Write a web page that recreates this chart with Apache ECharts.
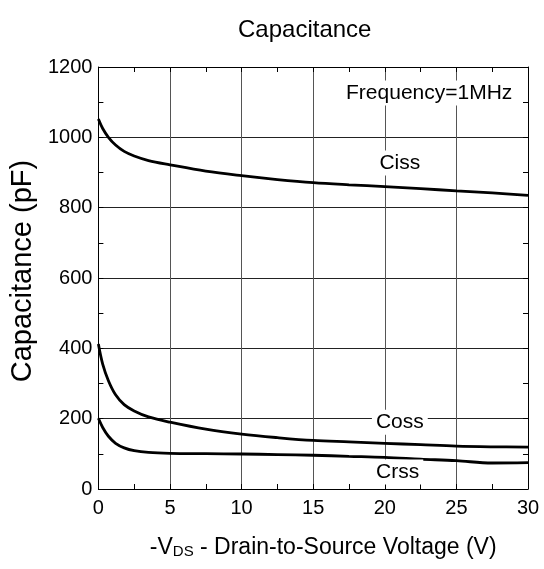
<!DOCTYPE html>
<html>
<head>
<meta charset="utf-8">
<script src="https://cdn.jsdelivr.net/npm/echarts@6/dist/echarts.min.js"></script>
<style>html,body{margin:0;padding:0;background:#fff}#c{width:544px;height:569px}</style>
</head>
<body>
<div id="c"></div>
<script>
const vds = [0, 0.3, 0.7, 1.2, 1.8, 2.5, 3.5, 5, 7.5, 10, 12.5, 15, 17.5, 20, 22.5, 25, 27.5, 30];
const ciss = [1052, 1025, 1000, 978, 960, 947, 934, 922, 904, 891, 880, 871, 865, 860, 854, 848, 842, 835];
const coss = [412, 355, 308, 268, 240, 222, 205, 190, 170, 156, 146, 138, 134, 130, 126, 122, 120, 119];
const crss = [201, 175, 150, 130, 117, 109, 104, 101.5, 100.5, 99.5, 98, 96, 93, 90, 85, 80.5, 74, 75];
const xTicks = [0, 5, 10, 15, 20, 25, 30];
const yTicks = [0, 200, 400, 600, 800, 1000, 1200];
const labels = [
  {name: 'Frequency=1MHz', x: 23.1, y: 1126},
  {name: 'Ciss', x: 21.05, y: 927},
  {name: 'Coss', x: 21.05, y: 190},
  {name: 'Crss', x: 20.9, y: 48}
];

const font = 'Liberation Sans, Arial, sans-serif';
const chart = echarts.init(document.getElementById('c'));
const pair = a => vds.map((v, i) => [v, a[i]]);
const lineSeries = (name, arr) => ({
  name, type: 'line', data: pair(arr), showSymbol: false, smooth: 0.35,
  lineStyle: {color: '#000', width: 2.8}, z: 3, silent: true
});
const tick = {show: true, inside: true, length: 5, lineStyle: {color: '#000', width: 1}};
const minor = {show: true, splitNumber: 2, length: 5, lineStyle: {color: '#000', width: 1}};
const line = {show: true, onZero: false, lineStyle: {color: '#000', width: 1}};
chart.setOption({
  animation: false,
  backgroundColor: '#fff',
  title: {text: 'Capacitance', left: 233, top: 13,
    textStyle: {fontFamily: font, fontWeight: 'normal', fontSize: 24, color: '#000'}},
  grid: {left: 97, right: 16, top: 67, bottom: 80},
  xAxis: [
    {
      type: 'value', min: 0, max: 30, interval: 5, position: 'bottom',
      axisLine: line, axisTick: tick, minorTick: minor,
      splitLine: {show: true, lineStyle: {color: '#555', width: 1}},
      axisLabel: {fontFamily: font, fontSize: 20, color: '#000', margin: 9,
        formatter: v => xTicks.includes(v) ? String(v) : ''},
      name: '{n|-V}{s|DS}{n| - Drain-to-Source Voltage (V)}',
      nameLocation: 'middle', nameGap: 47,
      nameTextStyle: {padding: [0, 0, 0, 20], rich: {
        n: {fontFamily: font, fontSize: 23, color: '#000'},
        s: {fontFamily: font, fontSize: 15, color: '#000', verticalAlign: 'bottom', padding: [7, 0, 0, 0]}
      }}
    },
    {
      type: 'value', min: 0, max: 30, interval: 5, position: 'top',
      axisLine: line, axisTick: tick, minorTick: minor,
      axisLabel: {show: false}, splitLine: {show: false}
    }
  ],
  yAxis: [
    {
      type: 'value', min: 0, max: 1200, interval: 200, position: 'left',
      axisLine: line, axisTick: tick, minorTick: minor,
      splitLine: {show: true, lineStyle: {color: '#222', width: 1}},
      axisLabel: {fontFamily: font, fontSize: 20, color: '#000', margin: 6,
        formatter: v => yTicks.includes(v) ? String(v) : ''},
      name: 'Capacitance (pF)', nameLocation: 'middle', nameGap: 53, nameRotate: 90,
      nameTextStyle: {fontFamily: font, fontSize: 29, color: '#000', padding: [0, 0, 0, 14]}
    },
    {
      type: 'value', min: 0, max: 1200, interval: 200, position: 'right',
      axisLine: line, axisTick: tick, minorTick: minor,
      axisLabel: {show: false}, splitLine: {show: false}
    }
  ],
  series: [
    lineSeries('Ciss', ciss),
    lineSeries('Coss', coss),
    lineSeries('Crss', crss),
    {
      type: 'scatter', symbolSize: 0, silent: true, z: 4,
      itemStyle: {color: '#000', opacity: 1},
      data: labels.map(l => ({name: l.name, value: [l.x, l.y]})),
      label: {show: true, position: 'inside', formatter: p => p.name,
        fontFamily: font, fontSize: 21, color: '#000', opacity: 1,
        textBorderWidth: 0, textBorderColor: 'transparent',
        backgroundColor: '#fff', padding: [2, 4]}
    }
  ]
});
</script>
</body>
</html>
